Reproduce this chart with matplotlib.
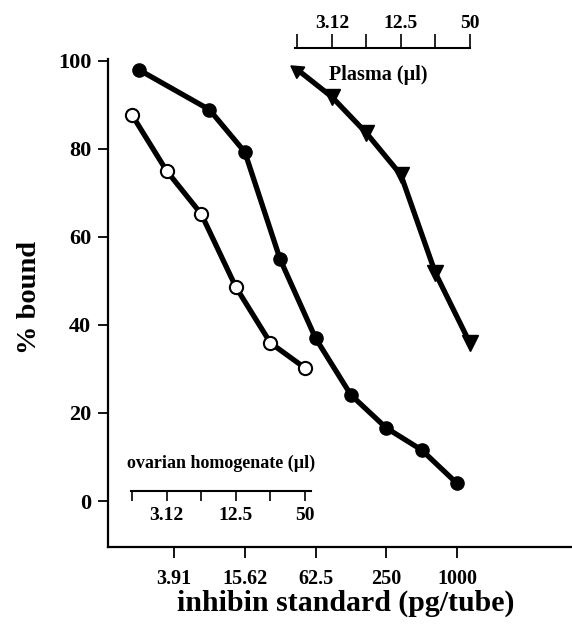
import matplotlib
matplotlib.use("Agg")
import matplotlib.pyplot as plt
from matplotlib.ticker import FixedLocator, FixedFormatter, NullLocator

plt.rcParams["font.family"] = ["Liberation Serif", "DejaVu Serif"]
plt.rcParams["font.weight"] = "bold"

# inhibin standard (pg/tube), filled circles
std_x = [1.95, 7.81, 15.62, 31.25, 62.5, 125, 250, 500, 1000]
std_y = [98.0, 88.9, 79.3, 54.9, 37.0, 24.1, 16.6, 11.6, 4.0]

# ovarian homogenate (ul), open circles
ovary_x = [1.5625, 3.125, 6.25, 12.5, 25, 50]
ovary_y = [87.7, 75.0, 65.2, 48.6, 35.9, 30.2]

# plasma (ul), triangles
plasma_x = [1.5625, 3.125, 6.25, 12.5, 25, 50]
plasma_y = [98.0, 91.8, 83.6, 74.1, 51.8, 35.9]

std_ticks = [3.91, 15.62, 62.5, 250, 1000]
std_labels = ["3.91", "15.62", "62.5", "250", "1000"]
ul_ticks = [1.5625, 3.125, 6.25, 12.5, 25, 50]
ul_labels = ["", "3.12", "", "12.5", "", "50"]

W, H = 572, 629
fig = plt.figure(figsize=(W / 100, H / 100), dpi=100)
rect = [108 / W, 82 / H, (W - 108) / W, 539 / H]
ylim = (-10.45, 112)

# ---------main axis----------
ax = fig.add_axes(rect)
ax.set_xscale("log")
ax.set_xlim(1.07, 9530)
ax.set_ylim(*ylim)
ax.spines["top"].set_visible(False)
ax.spines["right"].set_visible(False)
ax.spines["left"].set_bounds(ylim[0], 100.5)
for s in ("left", "bottom"):
    ax.spines[s].set_linewidth(1.6)
ax.xaxis.set_major_locator(FixedLocator(std_ticks))
ax.xaxis.set_major_formatter(FixedFormatter(std_labels))
ax.xaxis.set_minor_locator(NullLocator())
ax.set_yticks([0, 20, 40, 60, 80, 100])
ax.tick_params(axis="x", direction="out", length=8, width=1.3, pad=8, labelsize=14.5)
ax.tick_params(axis="y", direction="out", length=7, width=1.3, pad=5, labelsize=16)
ax.patch.set_visible(False)

ax.plot(std_x, std_y, color="black", linewidth=3.8, marker="o",
        markersize=9.5, markerfacecolor="black", markeredgecolor="black", zorder=3)

fig.text(30 / W, 1 - 297 / H, "% bound", rotation=90, ha="center", va="center",
         fontsize=20.5, fontweight="bold")
fig.text(346 / W, 1 - 603 / H, "inhibin standard (pg/tube)", ha="center",
         va="center", fontsize=21.5, fontweight="bold")

# ---------ovarian homogenate scale----------
ax2 = fig.add_axes(rect, sharey=ax)
ax2.set_xscale("log")
ax2.set_xlim(0.966, 10470)
ax2.patch.set_visible(False)
for s in ("top", "right", "left"):
    ax2.spines[s].set_visible(False)
ax2.spines["bottom"].set_position(("data", 2.27))
ax2.spines["bottom"].set_bounds(1.53, 56)
ax2.spines["bottom"].set_linewidth(1.5)
ax2.xaxis.set_major_locator(FixedLocator(ul_ticks))
ax2.xaxis.set_major_formatter(FixedFormatter(ul_labels))
ax2.xaxis.set_minor_locator(NullLocator())
ax2.yaxis.set_visible(False)
ax2.tick_params(axis="x", direction="out", length=7.5, width=1.2, pad=4, labelsize=14)
ax2.plot(ovary_x, ovary_y, color="black", linewidth=3.8, marker="o",
         markersize=9.5, markerfacecolor="white", markeredgecolor="black",
         markeredgewidth=1.5, zorder=3)
fig.text(221 / W, 1 - 463 / H, "ovarian homogenate (\u00b5l)", ha="center",
         va="center", fontsize=13, fontweight="bold")

# ---------plasma scale----------
ax3 = fig.add_axes(rect, sharey=ax)
ax3.set_xscale("log")
ax3.set_xlim(0.0348, 389)
ax3.patch.set_visible(False)
for s in ("bottom", "right", "left"):
    ax3.spines[s].set_visible(False)
ax3.spines["top"].set_position(("data", 103))
ax3.spines["top"].set_bounds(1.49, 50)
ax3.spines["top"].set_linewidth(1.5)
ax3.xaxis.tick_top()
ax3.xaxis.set_major_locator(FixedLocator(ul_ticks))
ax3.xaxis.set_major_formatter(FixedFormatter(ul_labels))
ax3.xaxis.set_minor_locator(NullLocator())
ax3.yaxis.set_visible(False)
ax3.tick_params(axis="x", direction="out", length=10, width=1.2, pad=1, labelsize=14)
ax3.plot(plasma_x, plasma_y, color="black", linewidth=3.8, zorder=3)
ax3.plot(plasma_x[1:], plasma_y[1:], linestyle="none", marker="v", markersize=11.5,
         color="black", zorder=4)
ax3.plot(plasma_x[:1], plasma_y[:1], linestyle="none", marker=(3, 0, 55),
         markersize=11.5, color="black", zorder=4)
fig.text(378 / W, 1 - 75 / H, "Plasma (\u00b5l)", ha="center", va="center",
         fontsize=14.5, fontweight="bold")

fig.savefig("out.png", dpi=100)
plt.close(fig)
